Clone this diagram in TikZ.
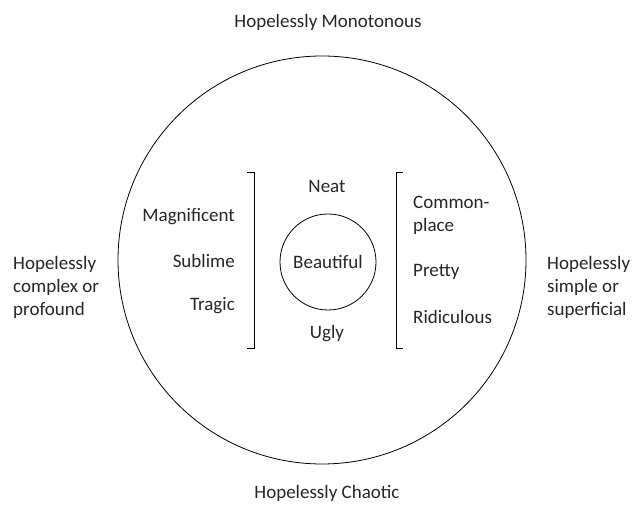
\documentclass[tikz,border=0pt]{standalone}
\usepackage{fontspec}
\setmainfont{Carlito}
\usetikzlibrary{positioning}

\begin{document}
\begin{tikzpicture}[x=1pt,y=-1pt,
    word/.style={font=\fontsize{19}{23}\selectfont,inner sep=0pt,text=black!85},
    ring/.style={circle,draw,line width=0.8pt,inner sep=0pt}]
  \useasboundingbox (0,0) rectangle (643,518);

  \node[ring,minimum size=408pt] (world) at (322,260) {};
  \node[ring,word,minimum size=96pt] (beauty) at (328,262) {Beautiful};

  \node[word] (neat) at (327,186) {Neat};
  \node[word] (ugly) at (327,334) {Ugly};

  \node[word] (mono) at (328,22) {Hopelessly Monotonous};
  \node[word] (chaos) at (327,493) {Hopelessly Chaotic};

  \node[word,anchor=west,align=left] (complex) at (13,287) {Hopelessly\\complex or\\profound};
  \node[word,anchor=west,align=left] (simple) at (547,287) {Hopelessly\\simple or\\superficial};

  % left column
  \node[word,anchor=east] (magn) at (235,217) {Magnificent};
  \node[word,anchor=east] (subl) at (235,261) {Sublime};
  \node[word,anchor=east] (trag) at (235,306) {Tragic};

  % right column
  \node[word,anchor=west,align=left] (common) at (413,215) {Common-\\place};
  \node[word,anchor=west] (pretty) at (413,272) {Pretty};
  \node[word,anchor=west] (ridic) at (413,317) {Ridiculous};

  % brackets
  \draw[line width=0.8pt] (247,172) -- (254,172) -- (254,348) -- (247,348);
  \draw[line width=0.8pt] (403,172) -- (396,172) -- (396,348) -- (403,348);

\end{tikzpicture}
\end{document}
